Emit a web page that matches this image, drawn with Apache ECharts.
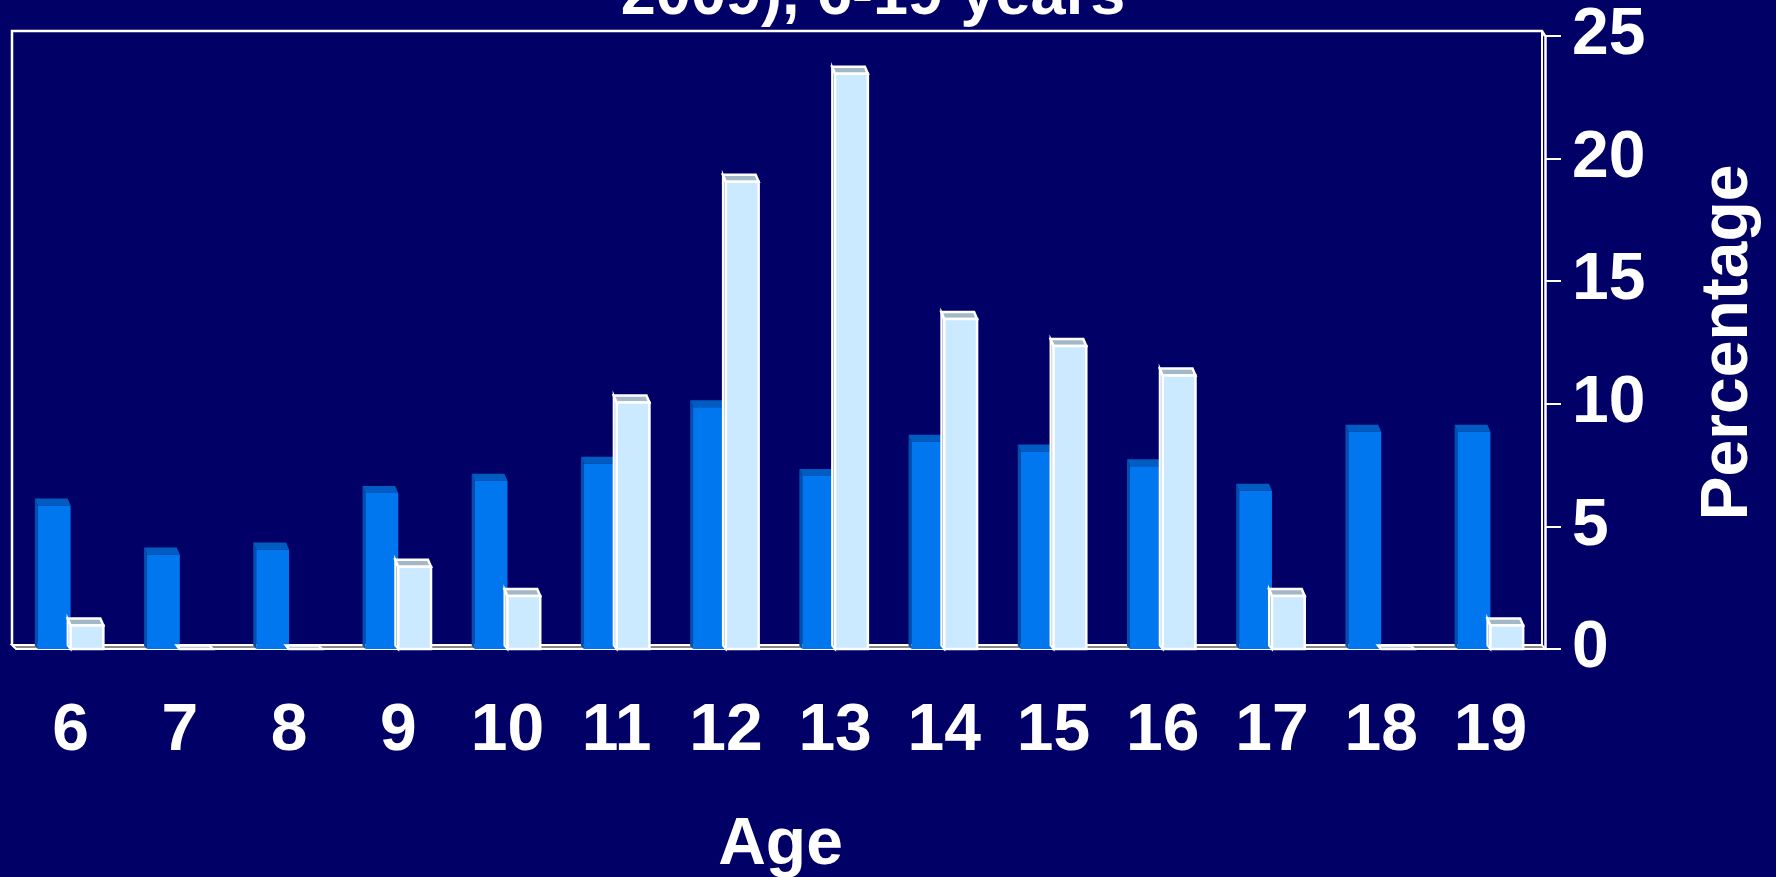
<!DOCTYPE html>
<html>
<head>
<meta charset="utf-8">
<title>Age chart</title>
<script src="https://cdn.jsdelivr.net/npm/echarts@6/dist/echarts.min.js"></script>
<style>
  html, body { margin: 0; padding: 0; background: #000066; }
  #myEchart { width: 1776px; height: 877px; }
</style>
</head>
<body>
<div id="myEchart"></div>
<script>
// data
var ages = ["6", "7", "8", "9", "10", "11", "12", "13", "14", "15", "16", "17", "18", "19"];
var darkValues = [6.0, 4.0, 4.2, 6.5, 7.0, 7.7, 10.0, 7.2, 8.6, 8.2, 7.6, 6.6, 9.0, 9.0];
var lightValues = [1.1, 0, 0, 3.5, 2.3, 10.2, 19.2, 23.6, 13.6, 12.5, 11.3, 2.3, 0, 1.1];
var yTicks = [0, 5, 10, 15, 20, 25];

var titleText = "2009), 6-19 years";
var font = "Liberation Sans, Arial, sans-serif";

// grid box (px)
var gridLeft = 16, gridRight = 231, gridTop = 36, gridBottom = 228;

var chart = echarts.init(document.getElementById("myEchart"));

// 3d-ish column: front face + slanted top + thin left side
function makeRender(side, front, top, sideColor, stroke) {
  return function (params, api) {
    var cat = api.value(0);
    var val = api.value(1);
    var p = api.coord([cat, val]);
    var base = api.coord([cat, 0])[1];
    var band = api.size([1, 0])[0];
    var w = band * 0.3;
    var x0 = side < 0 ? p[0] - w : p[0];
    var dx = 3, dy = 7;
    var yFront = Math.min(base, p[1] + dy / 2);
    var yBack = yFront - dy;
    if (val === 0) { yFront = base; yBack = base - 3.5; }
    var children = [];
    children.push({
      type: "polygon",
      shape: { points: [[x0, yFront], [x0 - dx, yBack], [x0 - dx, base - dy / 2], [x0, base]] },
      style: { fill: sideColor, stroke: stroke, lineWidth: stroke ? 2 : 0 }
    });
    children.push({
      type: "polygon",
      shape: { points: [[x0, yFront], [x0 + w, yFront], [x0 + w - dx, yBack], [x0 - dx, yBack]] },
      style: { fill: top, stroke: stroke, lineWidth: stroke ? 2.5 : 0 }
    });
    if (base - yFront > 0) {
      children.push({
        type: "rect",
        shape: { x: x0, y: yFront, width: w, height: base - yFront },
        style: { fill: front, stroke: stroke, lineWidth: stroke ? 2.5 : 0 }
      });
    }
    return { type: "group", children: children };
  };
}

var darkData = darkValues.map(function (v, i) { return [i, v]; });
var lightData = lightValues.map(function (v, i) { return [i, v]; });

var option = {
  backgroundColor: "#000066",
  animation: false,
  title: {
    text: titleText,
    left: 873,
    top: -35,
    padding: 0,
    textAlign: "center",
    textStyle: { color: "#fff", fontSize: 63, fontWeight: "bold", fontFamily: font }
  },
  grid: {
    left: gridLeft,
    right: gridRight,
    top: gridTop,
    bottom: gridBottom,
    outerBoundsMode: "none"
  },
  xAxis: {
    type: "category",
    data: ages,
    name: "Age",
    nameLocation: "middle",
    nameGap: 164,
    nameTextStyle: { color: "#fff", fontSize: 66, fontWeight: "bold", fontFamily: font },
    axisLine: { show: false },
    axisTick: { show: false },
    axisLabel: {
      margin: 50,
      color: "#fff",
      fontSize: 66,
      fontWeight: "bold",
      fontFamily: font
    },
    splitLine: { show: false }
  },
  yAxis: {
    type: "value",
    position: "right",
    min: 0,
    max: 25,
    interval: 5,
    name: "Percentage",
    nameLocation: "middle",
    nameRotate: 90,
    nameGap: 151,
    nameTextStyle: { color: "#fff", fontSize: 66, fontWeight: "bold", fontFamily: font },
    axisLine: { show: true, lineStyle: { color: "#fff", width: 2.5 } },
    axisTick: { show: true, inside: false, length: 16, lineStyle: { color: "#fff", width: 2 } },
    axisLabel: {
      margin: 27,
      color: "#fff",
      fontSize: 66,
      fontWeight: "bold",
      fontFamily: font,
      formatter: function (v) { return yTicks.indexOf(v) >= 0 ? String(v) : ""; }
    },
    splitLine: { show: false }
  },
  series: [
    {
      name: "dark",
      type: "custom",
      clip: false,
      z: 5,
      renderItem: makeRender(-1, "#0077ee", "#005cc0", "#004fae", null),
      encode: { x: 0, y: 1 },
      data: darkData
    },
    {
      name: "light",
      type: "custom",
      clip: false,
      z: 5,
      renderItem: makeRender(1, "#cceaff", "#a3b8c6", "#a3b8c6", "#ffffff"),
      encode: { x: 0, y: 1 },
      data: lightData
    }
  ]
};
chart.setOption(option);

// back wall and floor, placed from the grid box
var W = chart.getWidth(), H = chart.getHeight();
var gl = gridLeft, gr = W - gridRight;
var yBase = chart.convertToPixel({ yAxisIndex: 0 }, 0);
var yTop = chart.convertToPixel({ yAxisIndex: 0 }, 25);
chart.setOption({
  graphic: [
    {
      type: "polyline",
      z: 1,
      shape: { points: [[gl - 4, yBase - 4], [gl - 4, yTop - 5], [gr - 3, yTop - 5], [gr, yTop]] },
      style: { stroke: "#fff", lineWidth: 2.5, fill: null }
    },
    {
      type: "line",
      z: 1,
      shape: { x1: gr - 3, y1: yTop - 5, x2: gr - 3, y2: yBase - 4 },
      style: { stroke: "#fff", lineWidth: 2 }
    },
    {
      type: "polygon",
      z: 1,
      shape: { points: [[gl - 4, yBase - 4], [gr - 3, yBase - 4], [gr, yBase], [gl, yBase]] },
      style: { fill: "#888888", stroke: "#fff", lineWidth: 2 }
    }
  ]
});

window.addEventListener("resize", function () {
  chart.resize();
});
</script>
</body>
</html>
